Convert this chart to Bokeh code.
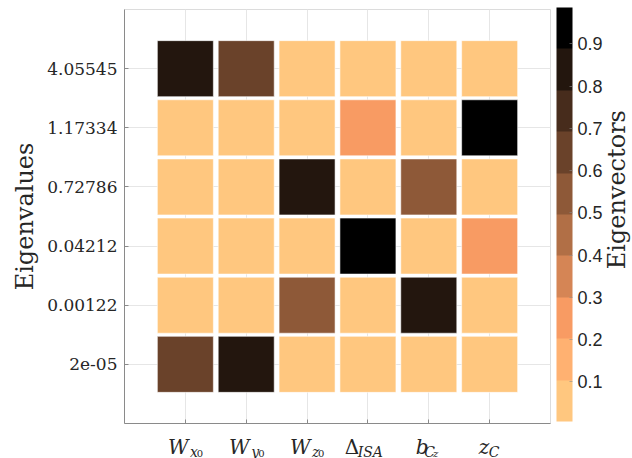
import math
from bokeh.plotting import figure
from bokeh.layouts import column, row
from bokeh.models import (ColumnDataSource, LinearColorMapper, ColorBar, FixedTicker,
                          Range1d)
from bokeh.core.properties import value
from bokeh.transform import transform
from bokeh.embed import file_html
from bokeh.resources import INLINE

# ---- data ----
params = ["W_x0", "W_y0", "W_z0", "Delta_ISA", "b_Cz", "z_C"]
eigenvalue_labels = ["4.05545", "1.17334", "0.72786", "0.04212", "0.00122", "2e-05"]
# |eigenvector components|, rows = eigenvalues (top to bottom), cols = params
row_4_05545 = [0.80, 0.62, 0.02, 0.01, 0.03, 0.02]
row_1_17334 = [0.03, 0.02, 0.01, 0.23, 0.04, 0.972]
row_0_72786 = [0.02, 0.03, 0.84, 0.04, 0.54, 0.03]
row_0_04212 = [0.01, 0.02, 0.03, 0.986, 0.02, 0.24]
row_0_00122 = [0.02, 0.01, 0.54, 0.03, 0.84, 0.02]
row_2e_05 = [0.62, 0.80, 0.03, 0.02, 0.006, 0.04]
rows = [row_4_05545, row_1_17334, row_0_72786, row_0_04212, row_0_00122, row_2e_05]
colorbar_ticks = [0.1, 0.2, 0.3, 0.4, 0.5, 0.6, 0.7, 0.8, 0.9]

n = len(params)
xs, ys, vals = [], [], []
for r_i, rw in enumerate(rows):
    for c, v in enumerate(rw):
        xs.append(c + 1)
        ys.append(n - r_i)
        vals.append(v)
src = ColumnDataSource(dict(x=xs, y=ys, v=vals))

# flipped copper colormap with 10 levels (light -> dark)
palette = []
for i in range(10):
    t = 1 - i / 9
    rr, gg, bb = min(1.0, 1.25 * t), 0.7812 * t, 0.4975 * t
    palette.append("#%02x%02x%02x" % (round(rr * 255), round(gg * 255), round(bb * 255)))
mapper = LinearColorMapper(palette=palette, low=min(vals), high=max(vals))

TXT = "#262626"
SERIF = "DejaVu Serif"
TOP_H = 425   # height of the heat-map row
BOT_H = 33    # height of the x-label strip
LEFT = 124
FRAME_W = 426
P_W = LEFT + FRAME_W + 1
TOTAL_W = 632

# ---------------- main heat map ----------------
p = figure(width=P_W, height=TOP_H, output_backend="svg", toolbar_location=None,
           x_range=Range1d(0, 7), y_range=Range1d(0, 7),
           min_border_left=LEFT, min_border_top=9, min_border_right=1, min_border_bottom=2)
p.outline_line_color = "#dcdcdc"
p.background_fill_color = "white"
p.border_fill_color = "white"

p.rect("x", "y", width=56, height=56, width_units="screen", height_units="screen",
       source=src, fill_color=transform("v", mapper), line_color="white", line_alpha=0.55,
       line_width=1)

p.xgrid.ticker = FixedTicker(ticks=list(range(1, n + 1)))
p.ygrid.ticker = FixedTicker(ticks=list(range(1, n + 1)))
p.grid.grid_line_color = "#e6e6e6"

for ax in (p.xaxis, p.yaxis):
    ax.axis_line_color = "#8a8a8a"
    ax.major_tick_line_color = "#8a8a8a"
    ax.major_tick_in = 4
    ax.major_tick_out = 0
    ax.minor_tick_line_color = None

p.xaxis.ticker = FixedTicker(ticks=list(range(1, n + 1)))
p.xaxis.major_label_overrides = {i + 1: "" for i in range(n)}
p.xaxis.major_label_text_font_size = "1px"
p.xaxis.major_label_standoff = 0

p.yaxis.ticker = FixedTicker(ticks=list(range(1, n + 1)))
p.yaxis.major_label_overrides = {n - i: lab for i, lab in enumerate(eigenvalue_labels)}
p.yaxis.major_label_text_font = SERIF
p.yaxis.major_label_text_font_size = "17px"
p.yaxis.major_label_text_color = TXT
p.yaxis.major_label_standoff = 7
p.yaxis.axis_label = "Eigenvalues"
p.yaxis.axis_label_text_font = SERIF
p.yaxis.axis_label_text_font_style = "normal"
p.yaxis.axis_label_text_font_size = "24px"
p.yaxis.axis_label_text_color = TXT
p.yaxis.axis_label_standoff = 5

# ---------------- colour bar panel ----------------
R_W = TOTAL_W - P_W
r = figure(width=R_W, height=TOP_H, output_backend="svg", toolbar_location=None,
           x_range=Range1d(0, R_W), y_range=Range1d(TOP_H, 0),
           x_axis_location=None, y_axis_location=None,
           min_border_left=0, min_border_right=0, min_border_top=0, min_border_bottom=0)
r.grid.visible = False
r.outline_line_color = None
r.background_fill_color = "white"
r.border_fill_color = "white"

cb = ColorBar(color_mapper=mapper, ticker=FixedTicker(ticks=colorbar_ticks),
              location=(5, 2), width=16, height=414, padding=0, margin=0,
              major_label_text_font="Liberation Sans", major_label_text_font_size="18px",
              major_label_text_color=TXT, label_standoff=5,
              major_tick_line_color="#8a8a8a", major_tick_line_alpha=0.6,
              major_tick_in=3, major_tick_out=0,
              bar_line_color=None, border_line_color=None, background_fill_color=None)
r.add_layout(cb, "center")

r.text(x=[65], y=[185], text=["Eigenvectors"], angle=math.pi / 2,
       text_font=value(SERIF), text_font_size="24px", text_color=TXT,
       text_align="center", text_baseline="middle")

# ---------------- x tick label strip ----------------
q = figure(width=TOTAL_W, height=BOT_H, output_backend="svg", toolbar_location=None,
           x_range=p.x_range, y_range=Range1d(BOT_H, 0),
           x_axis_location=None, y_axis_location=None,
           min_border_left=LEFT, min_border_right=TOTAL_W - LEFT - FRAME_W,
           min_border_top=0, min_border_bottom=0)
q.grid.visible = False
q.outline_line_color = None
q.background_fill_color = "white"
q.border_fill_color = "white"

# pieces: (column, text, style, size, x offset from tick in px, baseline y in px of page)
pieces = [
    (0, "W", "italic", "20px", -17.4, 446), (0, "x", "italic", "14px", 4.6, 451), (0, "0", "normal", "10px", 11.3, 453),
    (1, "W", "italic", "20px", -17.3, 446), (1, "y", "italic", "14px", 5.0, 451), (1, "0", "normal", "10px", 12.0, 453),
    (2, "W", "italic", "20px", -17.1, 446), (2, "z", "italic", "14px", 5.0, 451), (2, "0", "normal", "10px", 11.0, 453),
    (3, "Δ", "normal", "20px", -23.3, 446), (3, "ISA", "italic", "14px", -10.3, 451),
    (4, "b", "italic", "20px", -13.1, 446), (4, "C", "italic", "14px", -4.6, 451), (4, "z", "italic", "10px", 4.2, 453),
    (5, "z", "italic", "20px", -11.0, 446), (5, "C", "italic", "14px", -1.0, 451),
]
lab_src = ColumnDataSource(dict(
    x=[c + 1 for c, *_ in pieces],
    y=[b - TOP_H for *_, b in pieces],
    text=[t for _, t, *_ in pieces],
    style=[s for _, _, s, *_ in pieces],
    size=[z for _, _, _, z, *_ in pieces],
    xoff=[o for *_, o, _ in pieces],
))
q.text(x="x", y="y", text="text", x_offset="xoff", source=lab_src,
       text_font=value(SERIF), text_font_style="style", text_font_size="size",
       text_color=TXT, text_align="left", text_baseline="alphabetic")

layout = column(row(p, r), q)
open("out.html", "w").write(file_html(layout, INLINE))
